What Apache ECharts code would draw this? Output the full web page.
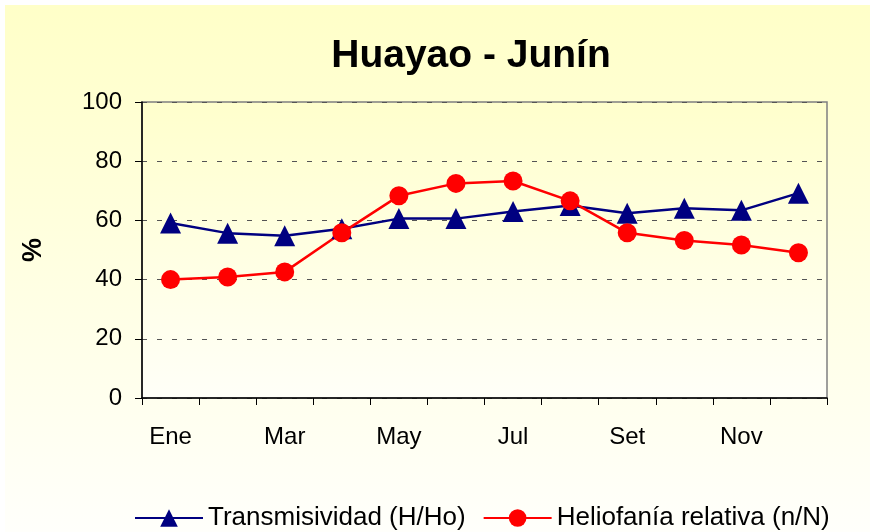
<!DOCTYPE html>
<html>
<head>
<meta charset="utf-8">
<script src="https://cdn.jsdelivr.net/npm/echarts@6/dist/echarts.min.js"></script>
<style>
  html, body { margin: 0; padding: 0; background: #fff; }
  #main { width: 870px; height: 532px; }
</style>
</head>
<body>
<div id="main"></div>
<script>
var meses = ['Ene', 'Feb', 'Mar', 'Abr', 'May', 'Jun', 'Jul', 'Ago', 'Set', 'Oct', 'Nov', 'Dic'];
var transmisividad = [59.1, 55.7, 54.8, 57.2, 60.6, 60.6, 63.0, 65.0, 62.4, 64.1, 63.4, 69.2];
var heliofania = [40.0, 40.9, 42.6, 55.8, 68.3, 72.5, 73.3, 66.6, 55.8, 53.2, 51.7, 49.1];

window.onload = function () {
  var mychart = echarts.init(document.getElementById('main'));
  var fontFam = 'Liberation Sans, Arial, sans-serif';

  var option = {
    animation: false,
    graphic: [{
      type: 'rect',
      z: -10,
      shape: { x: 5, y: 5, width: 865, height: 527 },
      style: {
        fill: new echarts.graphic.LinearGradient(0, 0, 0, 1, [
          { offset: 0, color: '#ffffc8' },
          { offset: 1, color: '#fffffb' }
        ])
      }
    }, {
      type: 'text',
      x: 20,
      y: 262,
      rotation: Math.PI / 2,
      style: { text: '%', font: 'bold 27px ' + fontFam, fill: '#000' }
    }],
    title: {
      text: 'Huayao - Junín',
      left: 466,
      top: 32,
      textAlign: 'center',
      textStyle: { fontFamily: fontFam, fontSize: 39, fontWeight: 'bold', color: '#000' }
    },
    legend: {
      top: 500,
      left: 129,
      itemWidth: 68,
      itemHeight: 22,
      itemGap: 17,
      textStyle: { fontFamily: fontFam, fontSize: 26, color: '#000' },
      data: ['Transmisividad (H/Ho)', 'Heliofanía relativa (n/N)']
    },
    grid: {
      left: 142, right: 43, top: 102, bottom: 134,
      show: true,
      borderColor: '#808080',
      borderWidth: 1.5,
      backgroundColor: new echarts.graphic.LinearGradient(0, 0, 0, 1, [
        { offset: 0, color: '#ffffcc' },
        { offset: 1, color: '#fffff8' }
      ])
    },
    xAxis: {
      type: 'category',
      data: meses,
      boundaryGap: true,
      axisLine: { lineStyle: { color: '#000', width: 1.5 } },
      axisTick: { show: true, length: 7, interval: 0, lineStyle: { color: '#000' } },
      axisLabel: {
        interval: 1,
        margin: 27,
        fontFamily: fontFam,
        fontSize: 24,
        color: '#000'
      },
      splitLine: { show: false }
    },
    yAxis: {
      type: 'value',
      min: 0,
      max: 100,
      interval: 20,
      axisLine: { show: true, lineStyle: { color: '#000', width: 1.5 } },
      axisTick: { show: true, length: 7, lineStyle: { color: '#000' } },
      axisLabel: { margin: 20, fontFamily: fontFam, fontSize: 24, color: '#000' },
      splitLine: { show: true, lineStyle: { color: '#555', type: [5, 10], width: 1 } }
    },
    series: [{
      name: 'Transmisividad (H/Ho)',
      type: 'line',
      data: transmisividad,
      symbol: 'triangle',
      symbolSize: 21,
      lineStyle: { color: '#000080', width: 2.5 },
      itemStyle: { color: '#000080' }
    }, {
      name: 'Heliofanía relativa (n/N)',
      type: 'line',
      data: heliofania,
      symbol: 'circle',
      symbolSize: 19,
      lineStyle: { color: '#ff0000', width: 2.5 },
      itemStyle: { color: '#ff0000' }
    }]
  };
  mychart.setOption(option);
};
</script>
</body>
</html>
